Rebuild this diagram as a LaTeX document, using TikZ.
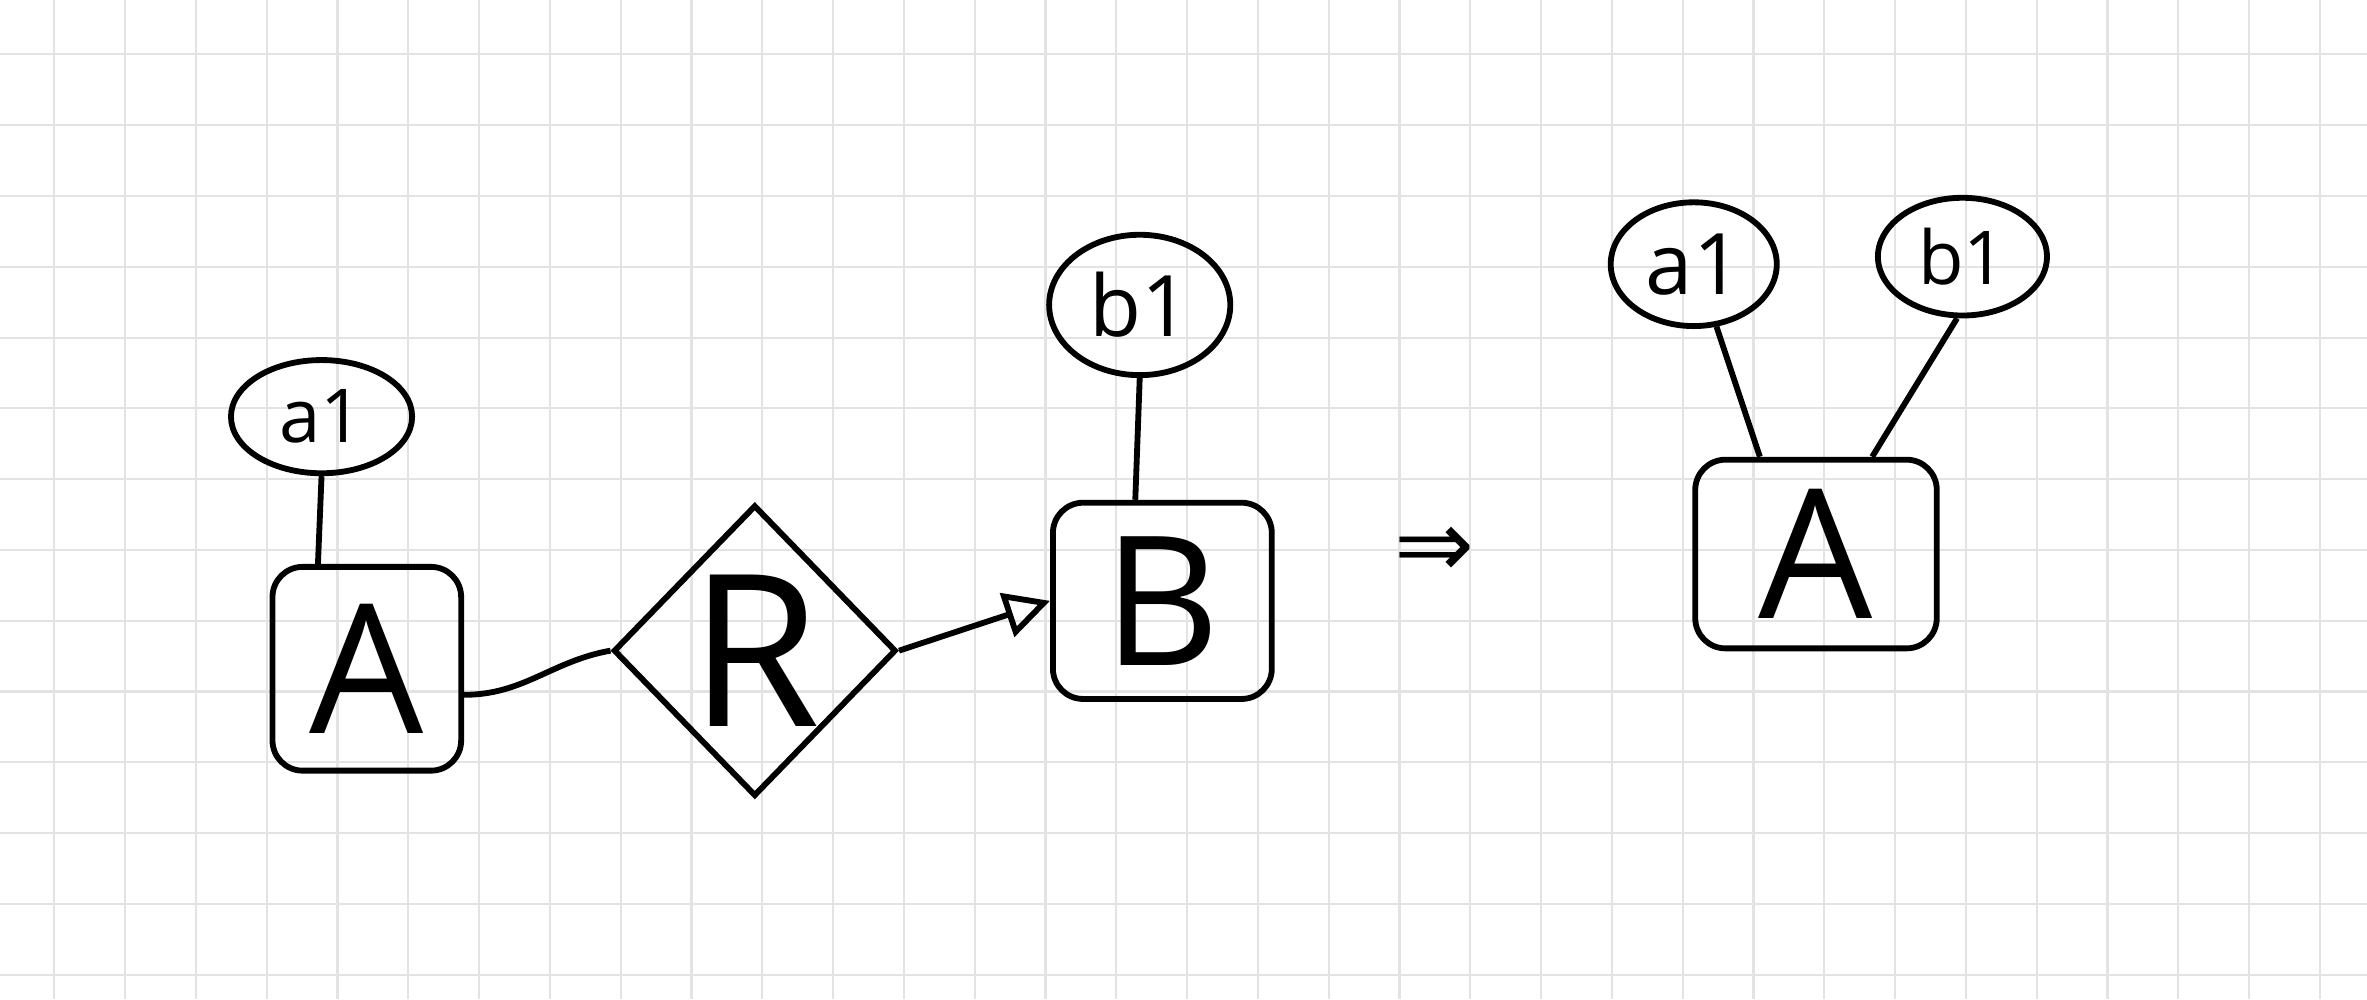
\documentclass[tikz,border=0pt]{standalone}
\usepackage{fontspec}
\setmainfont{Open Sans}
\newfontfamily\symfont{DejaVu Sans}
\usetikzlibrary{arrows.meta,positioning,shapes.geometric}
\tikzset{
  gridline/.style={gray!22, line width=0.4pt},
  entity/.style={rectangle, draw=black, line width=1.1pt, rounded corners=2mm, inner sep=1pt, font=\fontsize{34}{36}\selectfont},
  attr/.style={ellipse, draw=black, line width=1.1pt, inner sep=1pt, font=\fontsize{14}{16}\selectfont},
  rel/.style={diamond, draw=black, line width=1.1pt, inner sep=0pt, font=\fontsize{40}{42}\selectfont},
  link/.style={line width=1.1pt},
  arrow/.style={-{Triangle[open,length=3mm,width=3mm]}, line width=1.1pt}
}

\begin{document}
\begin{tikzpicture}[x=0.1mm, y=-0.1mm]
  \useasboundingbox (0,0) rectangle (1568,662);
  % squared paper
  \foreach \i in {0,...,32}
    \draw[gridline] ({36+46.9*\i},0) -- ({36+46.9*\i},662);
  \foreach \j in {0,...,13}
    \draw[gridline] (0,{36+46.9*\j}) -- (1568,{36+46.9*\j});

  % before
  \node[entity, minimum width=12.5mm, minimum height=13.5mm] (Aleft) at (243,443) {A};
  \node[attr, minimum width=12mm, minimum height=7.5mm] (a1left) at (213,276) {a1};
  \node[rel, minimum width=18mm, minimum height=19.3mm] (R) at (500,431) {R};
  \node[entity, minimum width=14.5mm, minimum height=13mm] (B) at (770,398) {B};
  \node[attr, minimum width=12mm, minimum height=9.3mm, font=\fontsize{16}{18}\selectfont] (b1mid) at (755,202) {b1};
  \draw[link] (a1left.south) -- (Aleft.115);
  \draw[link] (Aleft.-15) to[out=0, in=190] (R.west);
  \draw[arrow] (R.east) -- (B.west);
  \draw[link] (b1mid.south) -- (B.105);

  \node[font=\symfont\fontsize{18}{20}\selectfont] (implies) at (950,366) {⇒};

  % after
  \node[entity, minimum width=16mm, minimum height=12.5mm] (Aright) at (1203,367) {A};
  \node[attr, minimum width=11mm, minimum height=8.2mm, font=\fontsize{16}{18}\selectfont] (a1right) at (1122,175) {a1};
  \node[attr, minimum width=11.2mm, minimum height=7.8mm] (b1right) at (1300,170) {b1};
  \draw[link] (a1right.-70) -- (Aright.120);
  \draw[link] (b1right.-95) -- (Aright.60);
\end{tikzpicture}
\end{document}
